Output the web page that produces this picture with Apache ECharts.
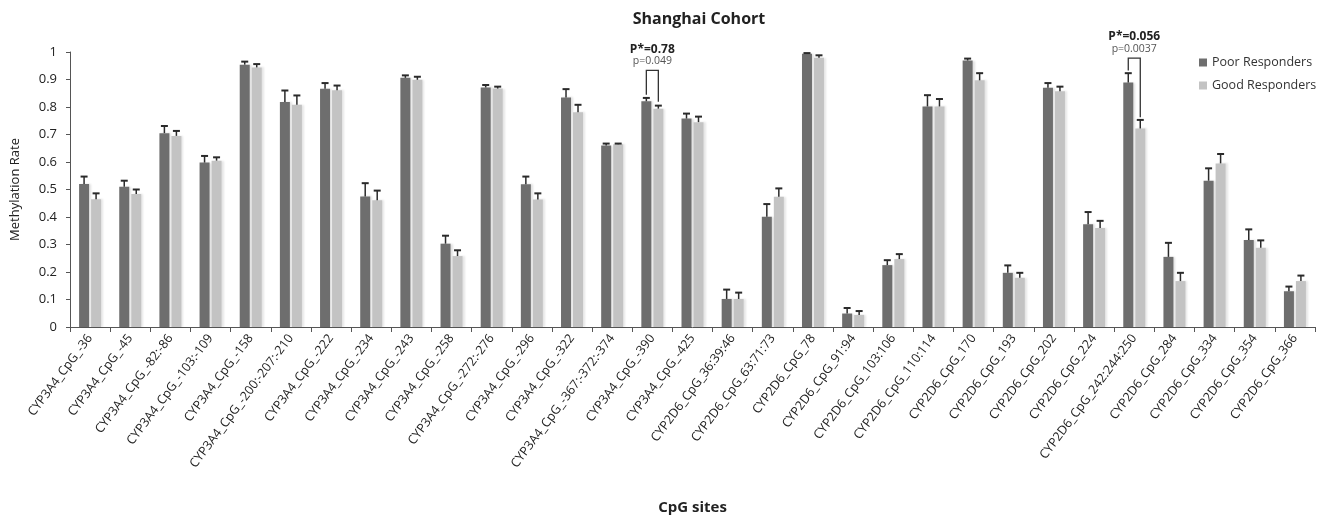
<!DOCTYPE html>
<html><head><meta charset="utf-8">
<script src="https://cdn.jsdelivr.net/npm/echarts@6/dist/echarts.min.js"></script>
<style>html,body{margin:0;padding:0;background:#fff}#c{width:1325px;height:519px}</style>
</head><body><div id="c"></div>
<script>
const categories = [
  'CYP3A4_CpG_-36','CYP3A4_CpG_-45','CYP3A4_CpG_-82:-86','CYP3A4_CpG_-103:-109','CYP3A4_CpG_-158',
  'CYP3A4_CpG_-200:-207:-210','CYP3A4_CpG_-222','CYP3A4_CpG_-234','CYP3A4_CpG_-243','CYP3A4_CpG_-258',
  'CYP3A4_CpG_-272:-276','CYP3A4_CpG_-296','CYP3A4_CpG_-322','CYP3A4_CpG_-367:-372:-374','CYP3A4_CpG_-390',
  'CYP3A4_CpG_-425','CYP2D6_CpG_36:39:46','CYP2D6_CpG_63:71:73','CYP2D6_CpG_78','CYP2D6_CpG_91:94',
  'CYP2D6_CpG_103:106','CYP2D6_CpG_110:114','CYP2D6_CpG_170','CYP2D6_CpG_193','CYP2D6_CpG_202',
  'CYP2D6_CpG_224','CYP2D6_CpG_242:244:250','CYP2D6_CpG_284','CYP2D6_CpG_334','CYP2D6_CpG_354','CYP2D6_CpG_366'
];
const poorMean = [0.520,0.510,0.705,0.598,0.954,0.818,0.866,0.475,0.906,0.303,0.871,0.519,0.835,0.660,0.821,0.758,
  0.102,0.401,0.994,0.049,0.225,0.802,0.969,0.197,0.870,0.374,0.889,0.255,0.532,0.316,0.130];
const poorErr = [0.027,0.022,0.026,0.024,0.011,0.042,0.021,0.048,0.009,0.029,0.009,0.028,0.030,0.007,0.012,0.018,
  0.034,0.046,0.002,0.020,0.018,0.041,0.007,0.027,0.017,0.044,0.034,0.051,0.045,0.039,0.017];
const goodMean = [0.465,0.484,0.695,0.605,0.944,0.808,0.861,0.461,0.899,0.258,0.867,0.464,0.781,0.665,0.794,0.745,
  0.102,0.474,0.979,0.044,0.247,0.802,0.897,0.179,0.857,0.360,0.722,0.167,0.595,0.288,0.167];
const goodErr = [0.021,0.016,0.018,0.012,0.012,0.034,0.017,0.035,0.011,0.021,0.007,0.022,0.027,0.002,0.011,0.020,
  0.023,0.030,0.009,0.014,0.018,0.027,0.026,0.018,0.017,0.026,0.031,0.030,0.034,0.027,0.020];
const yTicks = [0,0.1,0.2,0.3,0.4,0.5,0.6,0.7,0.8,0.9,1];
// annotation brackets: [category index, bracket top, left end, right end]
const bracketPos = [[14,0.933,0.845,0.819],[26,0.978,0.933,0.763]];
const bracketMain = ['P*=0.78','P*=0.056'];
const bracketSub = ['p=0.049','p=0.0037'];

const FONT = '"Open Sans", "Liberation Sans", sans-serif';
const DARK = '#6e6e6e', LIGHT = '#c3c3c3';
const OFF = 6;

function errRender(offset){
  return function(params, api){
    const i = api.value(0), m = api.value(1), e = api.value(2);
    const p0 = api.coord([i, m]), p1 = api.coord([i, m + e]);
    const x = p0[0] + offset;
    return {type:'group', children:[
      {type:'line', shape:{x1:x,y1:p0[1],x2:x,y2:p1[1]}, style:{stroke:'#2a2a2a',lineWidth:1.5}},
      {type:'line', shape:{x1:x-3.5,y1:p1[1],x2:x+3.5,y2:p1[1]}, style:{stroke:'#2a2a2a',lineWidth:2}}
    ]};
  };
}

const chart = echarts.init(document.getElementById('c'), null, {renderer:'canvas'});
chart.setOption({
  animation:false,
  textStyle:{fontFamily:FONT},
  title:{text:'Shanghai Cohort', left:694, top:6, textAlign:'center',
    textStyle:{fontSize:16, fontWeight:'bold', color:'#222', fontFamily:FONT}},
  legend:{orient:'vertical', left:1194, top:51, itemWidth:8, itemHeight:8, itemGap:10, icon:'rect',
    textStyle:{fontSize:12.5, color:'#333', fontFamily:FONT},
    data:['Poor Responders','Good Responders']},
  grid:{left:70, right:10, top:52, bottom:192, containLabel:false, outerBoundsMode:'none'},
  xAxis:{type:'category', data:categories,
    axisLine:{lineStyle:{color:'#555', width:1}},
    axisTick:{show:true, length:5, lineStyle:{color:'#555'}},
    axisLabel:{rotate:53, fontSize:12.5, color:'#222', margin:9, interval:0, fontFamily:FONT},
    name:'CpG sites', nameLocation:'middle', nameGap:173,
    nameTextStyle:{fontSize:15, fontWeight:'bold', color:'#222', fontFamily:FONT}},
  yAxis:{type:'value', min:0, max:1, interval:0.1,
    axisLine:{show:true, lineStyle:{color:'#555'}},
    axisTick:{show:true, length:4, lineStyle:{color:'#555'}},
    splitLine:{show:false},
    axisLabel:{fontSize:13, color:'#222', margin:13, fontFamily:FONT,
      formatter:function(v){ const t = yTicks.find(function(k){return Math.abs(k-v)<1e-6;}); return t===undefined?'':String(t);}},
    name:'Methylation Rate', nameLocation:'middle', nameGap:48, nameRotate:90,
    nameTextStyle:{fontSize:13, color:'#222', fontFamily:FONT}},
  series:[
    {name:'Poor Responders', type:'bar', data:poorMean, barWidth:10, barGap:'20%',
      itemStyle:{color:DARK, shadowColor:'rgba(0,0,0,0.12)', shadowOffsetX:2, shadowBlur:2}},
    {name:'Good Responders', type:'bar', data:goodMean, barWidth:10, barGap:'20%',
      itemStyle:{color:LIGHT, shadowColor:'rgba(0,0,0,0.10)', shadowOffsetX:2, shadowBlur:2}},
    {type:'custom', name:'poorErr', renderItem:errRender(-OFF), z:5,
      data:poorMean.map(function(v,i){return [i,v,poorErr[i]];}), tooltip:{show:false}},
    {type:'custom', name:'goodErr', renderItem:errRender(OFF), z:5,
      data:goodMean.map(function(v,i){return [i,v,goodErr[i]];}), tooltip:{show:false}},
    {type:'custom', name:'brackets', clip:false, z:6,
      renderItem:function(params, api){
        const i = api.value(0);
        const top = api.coord([i, api.value(1)]);
        const l = api.coord([i, api.value(2)]);
        const r = api.coord([i, api.value(3)]);
        const xl = top[0]-OFF, xr = top[0]+OFF, yt = top[1];
        const k = params.dataIndex;
        return {type:'group', children:[
          {type:'polyline', shape:{points:[[xl,l[1]],[xl,yt],[xr,yt],[xr,r[1]]]}, style:{stroke:'#333', lineWidth:1.3, fill:null}},
          {type:'text', style:{x:top[0], y:yt-9, text:bracketSub[k], textAlign:'center', textVerticalAlign:'middle',
            font:'10.5px '+FONT, fill:'#555'}},
          {type:'text', style:{x:top[0], y:yt-21, text:bracketMain[k], textAlign:'center', textVerticalAlign:'middle',
            font:'bold 12px '+FONT, fill:'#222'}}
        ]};
      },
      data:bracketPos}
  ]
});
</script></body></html>
